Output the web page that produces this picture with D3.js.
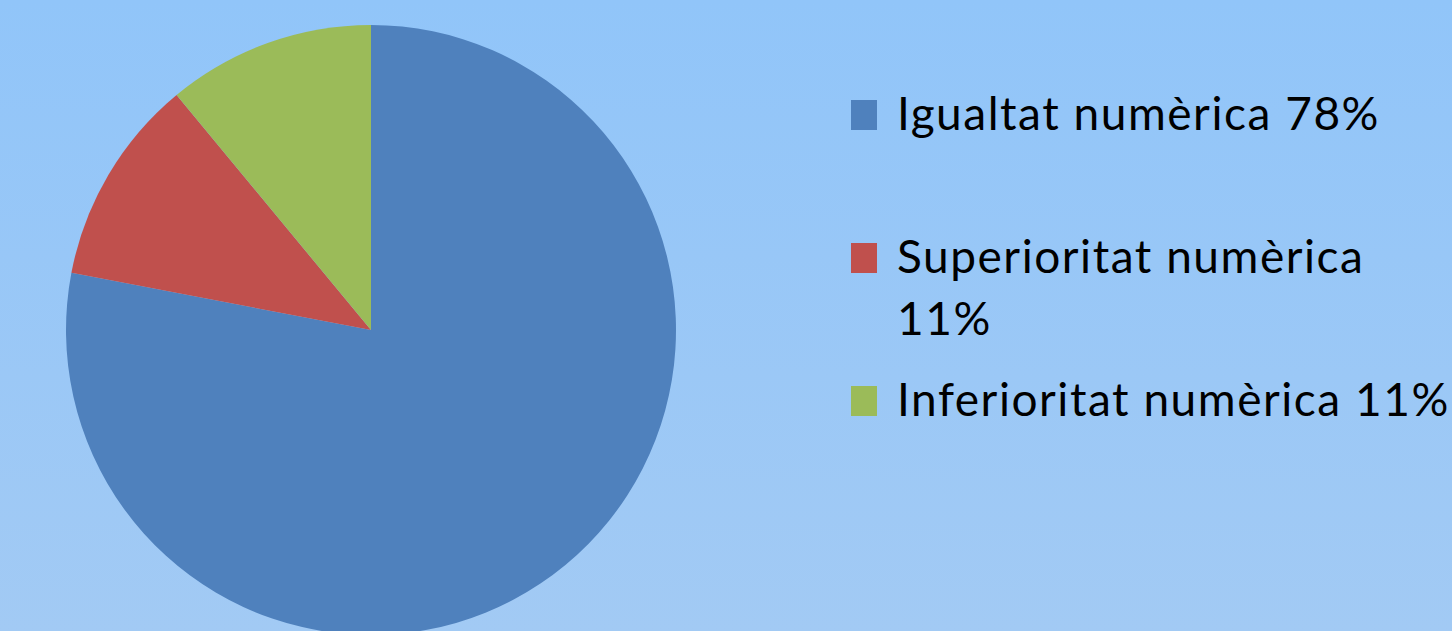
<!DOCTYPE html>
<html><head><meta charset="utf-8">
<script src="https://cdn.jsdelivr.net/npm/d3@7"></script>
<style>html,body{margin:0;padding:0;overflow:hidden;}</style>
</head><body>
<svg id="c" width="1452" height="631"></svg>
<script>
const categories = ["Igualtat numèrica", "Superioritat numèrica", "Inferioritat numèrica"];
const values = [78, 11, 11];
const labels = [["Igualtat numèrica 78%"], ["Superioritat numèrica", "11%"], ["Inferioritat numèrica 11%"]];
const colors = ["#4F81BD", "#C0504D", "#9BBB59"];

const svg = d3.select("#c");
const defs = svg.append("defs");
const g = defs.append("linearGradient").attr("id","bg").attr("x1",0).attr("y1",0).attr("x2",0).attr("y2",1);
g.append("stop").attr("offset","0%").attr("stop-color","#91C5F9");
g.append("stop").attr("offset","100%").attr("stop-color","#A2CAF4");
svg.append("rect").attr("width",1452).attr("height",631).attr("fill","url(#bg)");

const cx = 371, cy = 330, r = 305;
const pie = d3.pie().sort(null).value(d => d)(values);
const arc = d3.arc().innerRadius(0).outerRadius(r);
svg.append("g").attr("transform",`translate(${cx},${cy})`)
  .selectAll("path").data(pie).join("path")
  .attr("d", arc).attr("fill", (d,i) => colors[i]);

const color = d3.scaleOrdinal().domain(categories).range(colors);
const leg = svg.append("g").attr("font-family","Lato, 'Open Sans', sans-serif").attr("font-size",46).attr("fill","#000");
const itemY = [130, 273, 416];
// measure first line and set letter spacing to match reference width
const probe = leg.append("text").text(labels[0][0]);
const w = probe.node().getComputedTextLength();
probe.remove();
const ls = (483 - w) / labels[0][0].length;
leg.attr("letter-spacing", ls);
categories.forEach((c,i) => {
  leg.append("rect").attr("x",851).attr("y",itemY[i]-30).attr("width",26).attr("height",30).attr("fill",color(c));
  labels[i].forEach((t,j) => {
    leg.append("text").attr("x",897).attr("y",itemY[i] + j*62).text(t);
  });
});
</script>
</body></html>
